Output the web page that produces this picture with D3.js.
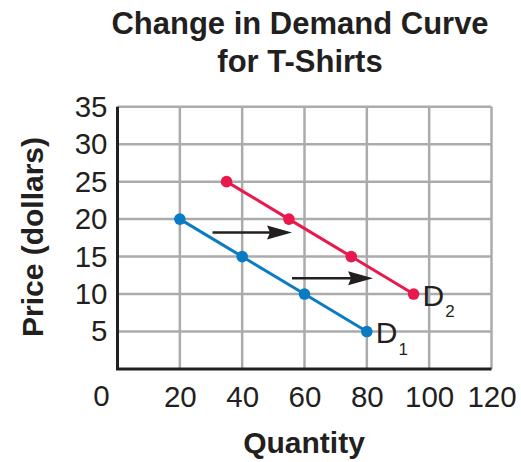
<!DOCTYPE html>
<html>
<head>
<meta charset="utf-8">
<script src="https://cdn.jsdelivr.net/npm/d3@7"></script>
<style>
  body { margin: 0; background: #fff; }
  text { font-family: "Liberation Sans", Arial, Helvetica, sans-serif; fill: #231f20; }
</style>
</head>
<body>
<div id="chart"></div>
<script>
// data
var xTicks = [20, 40, 60, 80, 100, 120];
var yTicks = [5, 10, 15, 20, 25, 30, 35];
var d1 = [{q: 20, p: 20}, {q: 40, p: 15}, {q: 60, p: 10}, {q: 80, p: 5}];
var d2 = [{q: 35, p: 25}, {q: 55, p: 20}, {q: 75, p: 15}, {q: 95, p: 10}];
var arrows = [{from: 30.5, to: 56, p: 18.2}, {from: 56, to: 82, p: 12.1}];
var titleLines = ["Change in Demand Curve", "for T-Shirts"];

var width = 521, height = 462;
var margin = {top: 106.7, right: 29.5, bottom: 93, left: 117.5};

var svg = d3.select("#chart")
  .append("svg")
    .attr("width", width)
    .attr("height", height);

var x = d3.scaleLinear()
  .domain([0, 120])
  .range([margin.left, width - margin.right]);
var y = d3.scaleLinear()
  .domain([0, 35])
  .range([height - margin.bottom, margin.top]);

// grid
svg.append("g")
  .selectAll("line")
  .data(xTicks)
  .enter()
  .append("line")
    .attr("x1", function(d) { return x(d); })
    .attr("x2", function(d) { return x(d); })
    .attr("y1", y(0))
    .attr("y2", y(35))
    .attr("stroke", "#ababab")
    .attr("stroke-width", 2.5);
svg.append("g")
  .selectAll("line")
  .data(yTicks)
  .enter()
  .append("line")
    .attr("x1", x(0))
    .attr("x2", x(120))
    .attr("y1", function(d) { return y(d); })
    .attr("y2", function(d) { return y(d); })
    .attr("stroke", "#ababab")
    .attr("stroke-width", 2.5);

// axes
var yAxis = svg.append("g")
  .attr("transform", "translate(" + x(0) + ",0)")
  .call(d3.axisLeft(y).tickValues(yTicks).tickSize(0).tickPadding(10));
var xAxis = svg.append("g")
  .attr("transform", "translate(0," + y(0) + ")")
  .call(d3.axisBottom(x).tickValues(xTicks).tickSize(0).tickPadding(17));
[yAxis, xAxis].forEach(function(a) {
  a.select(".domain").attr("stroke", "#231f20").attr("stroke-width", 3);
  a.selectAll("text")
    .attr("fill", "#231f20")
    .style("font-size", "29.5px")
    .style("font-family", "'Liberation Sans', Arial, sans-serif");
});
xAxis.select(".domain").attr("d", "M" + (x(0) - 1.5) + ",0H" + x(120));
yAxis.select(".domain").attr("d", "M0," + y(0) + "V" + y(35));

// shared origin label
svg.append("text")
  .attr("x", x(0) - 16)
  .attr("y", y(0) + 37)
  .attr("text-anchor", "middle")
  .style("font-size", "29.5px")
  .text("0");

// demand curves
var line = d3.line()
  .x(function(d) { return x(d.q); })
  .y(function(d) { return y(d.p); });

function curve(data, color, name, sub) {
  svg.append("path")
    .datum(data)
    .attr("fill", "none")
    .attr("stroke", color)
    .attr("stroke-width", 3)
    .attr("d", line);
  svg.append("g")
    .selectAll("circle")
    .data(data)
    .enter()
    .append("circle")
      .attr("cx", function(d) { return x(d.q); })
      .attr("cy", function(d) { return y(d.p); })
      .attr("r", 5.8)
      .attr("fill", color);
  var last = data[data.length - 1];
  var t = svg.append("text")
    .attr("x", x(last.q) + 9)
    .attr("y", y(last.p) + 11.5)
    .style("font-size", "30px")
    .text(name);
  t.append("tspan")
    .attr("dy", 11.5)
    .attr("dx", 1)
    .style("font-size", "17px")
    .text(sub);
}
curve(d1, "#0a7cc4", "D", "1");
curve(d2, "#e8194c", "D", "2");

// shift arrows
arrows.forEach(function(a) {
  var x1 = x(a.from), x2 = x(a.to), yy = y(a.p);
  svg.append("line")
    .attr("x1", x1)
    .attr("x2", x2 - 20)
    .attr("y1", yy)
    .attr("y2", yy)
    .attr("stroke", "#231f20")
    .attr("stroke-width", 2.5);
  svg.append("path")
    .attr("d", "M" + x2 + "," + yy + "L" + (x2 - 25) + "," + (yy - 7) +
               "L" + (x2 - 22) + "," + yy +
               "L" + (x2 - 25) + "," + (yy + 7) + "Z")
    .attr("fill", "#231f20");
});

// title
svg.append("g")
  .selectAll("text")
  .data(titleLines)
  .enter()
  .append("text")
    .attr("x", 300)
    .attr("y", function(d, i) { return 34 + i * 38; })
    .attr("text-anchor", "middle")
    .style("font-size", "31px")
    .style("font-weight", "bold")
    .text(function(d) { return d; });

// axis labels
svg.append("text")
  .attr("x", 304)
  .attr("y", 453)
  .attr("text-anchor", "middle")
  .style("font-size", "30px")
  .style("font-weight", "bold")
  .text("Quantity");
svg.append("text")
  .attr("transform", "translate(43,237) rotate(-90)")
  .attr("text-anchor", "middle")
  .style("font-size", "30px")
  .style("font-weight", "bold")
  .text("Price (dollars)");
</script>
</body>
</html>
